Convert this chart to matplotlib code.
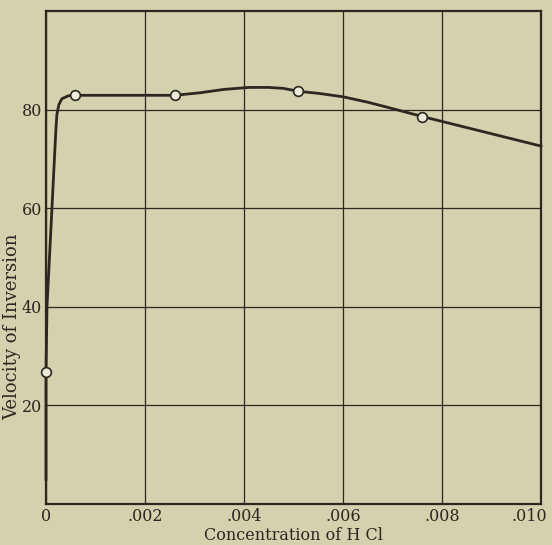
import matplotlib.pyplot as plt
import matplotlib.transforms as mtransforms
import numpy as np

# curve
curve_x = [0, 0, 0.00002, 0.00012, 0.0002, 0.00022, 0.00026, 0.00032, 0.00045, 0.00058,
           0.0015, 0.0026, 0.0031, 0.0036, 0.0041, 0.0045, 0.0048, 0.0051, 0.0055,
           0.006, 0.0065, 0.007, 0.0076, 0.0088, 0.010]
curve_y = [5, 26.7, 40, 60, 76, 79, 81, 82.2, 82.8, 82.9,
           82.9, 82.9, 83.4, 84.1, 84.5, 84.5, 84.3, 83.7, 83.3,
           82.6, 81.5, 80.2, 78.6, 75.6, 72.6]

# measured points
pts_x = [0, 0.00058, 0.0026, 0.0051, 0.0076]
pts_y = [26.7, 82.9, 82.9, 83.7, 78.6]

xticks = [0, 0.002, 0.004, 0.006, 0.008, 0.010]
xtick_labels = ["0", ".002", ".004", ".006", ".008", ".010"]
yticks = [20, 40, 60, 80]

paper = "#d4d1ae"
ink = "#2b2822"

plt.rcParams["font.family"] = ["DejaVu Serif"]
fig = plt.figure(figsize=(5.52, 5.45), dpi=100, facecolor=paper)
ax = fig.add_axes([46/552, 1-504/545, 495/552, 493/545], facecolor=paper)

ax.set_xlim(0, 0.010)
ax.set_ylim(0, 100)
ax.set_xticks(xticks)
ax.set_xticklabels(xtick_labels)
ax.set_yticks(yticks)
ax.grid(True, color=ink, lw=0.9)
ax.tick_params(length=0, pad=3, labelsize=11.5, colors=ink)
for s in ax.spines.values():
    s.set_color(ink)
    s.set_linewidth(1.6)

# last x label sits a bit left so it stays on the page
last = ax.get_xticklabels()[-1]
last.set_transform(last.get_transform() + mtransforms.ScaledTranslation(-12/100, 0, fig.dpi_scale_trans))

ax.plot(curve_x, curve_y, color=ink, lw=2.0, solid_joinstyle="round", zorder=3, clip_on=False)
ax.plot(pts_x, pts_y, "o", ms=7, mfc="#ecebd8", mec=ink, mew=1.2, zorder=4, clip_on=False)

ax.set_xlabel("Concentration of H Cl", fontsize=11.5, color=ink, labelpad=1)
ax.set_ylabel("Velocity of Inversion", fontsize=13, color=ink)
ax.yaxis.set_label_coords(-0.05, 0.36)

fig.savefig("out.png", dpi=100, facecolor=paper)
